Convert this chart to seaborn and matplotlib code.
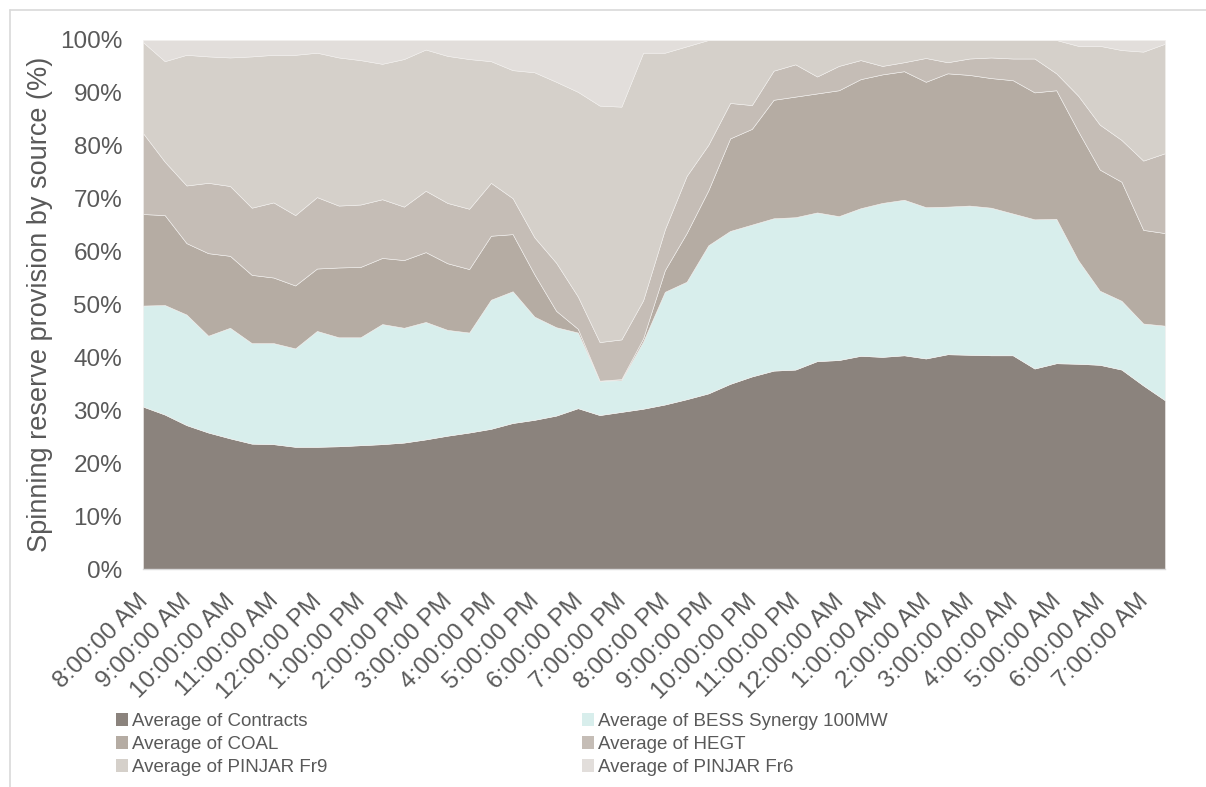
import numpy as np
import pandas as pd
import seaborn as sns
import matplotlib.pyplot as plt
import matplotlib.transforms as mtransforms
from matplotlib.patches import Patch
from matplotlib.lines import Line2D

# half-hourly averages, 8:00 AM -> 7:30 AM (%)
contracts = [30.7, 29.2, 27.2, 25.8, 24.7, 23.7, 23.6, 23.1, 23.1, 23.2, 23.4, 23.6,
             23.9, 24.5, 25.2, 25.8, 26.5, 27.6, 28.2, 29.0, 30.4, 29.1, 29.7, 30.3,
             31.1, 32.1, 33.2, 35.0, 36.4, 37.5, 37.7, 39.3, 39.5, 40.3, 40.1, 40.4,
             39.8, 40.6, 40.5, 40.4, 40.4, 37.9, 38.9, 38.8, 38.6, 37.7, 34.7, 31.9]
bess = [19.1, 20.7, 20.9, 18.3, 20.9, 19.0, 19.1, 18.6, 21.9, 20.6, 20.4, 22.7,
        21.7, 22.2, 20.0, 18.9, 24.4, 24.9, 19.5, 16.7, 14.3, 6.5, 6.0, 12.7,
        21.3, 22.2, 28.0, 28.9, 28.7, 28.8, 28.8, 28.1, 27.2, 27.9, 29.1, 29.4,
        28.6, 27.9, 28.2, 27.9, 26.8, 28.2, 27.3, 19.6, 14.0, 13.0, 11.7, 14.1]
coal = [17.3, 17.0, 13.5, 15.6, 13.6, 12.9, 12.4, 11.9, 11.8, 13.2, 13.3, 12.5,
        12.8, 13.2, 12.6, 12.0, 12.1, 10.8, 8.0, 3.1, 0.7, 0.0, 0.2, 0.6,
        4.1, 9.2, 10.4, 17.5, 18.1, 22.4, 22.8, 22.5, 23.8, 24.4, 24.3, 24.3,
        23.7, 25.2, 24.7, 24.5, 25.2, 24.0, 24.3, 24.4, 22.9, 22.5, 17.7, 17.5]
hegt = [15.3, 10.1, 10.9, 13.3, 13.2, 12.7, 14.2, 13.3, 13.5, 11.7, 11.8, 11.1,
        10.1, 11.6, 11.4, 11.4, 10.0, 6.8, 7.0, 9.1, 6.1, 7.3, 7.5, 7.2,
        7.7, 10.8, 8.6, 6.7, 4.5, 5.5, 6.1, 3.2, 4.6, 3.6, 1.6, 1.7,
        4.5, 2.1, 3.1, 3.9, 4.1, 6.4, 3.2, 6.7, 8.5, 7.9, 13.1, 15.1]
pinjar_fr9 = [17.2, 19.0, 24.7, 23.9, 24.3, 28.6, 27.9, 30.3, 27.3, 28.0, 27.3, 25.6,
              27.9, 26.7, 27.8, 28.3, 23.0, 24.2, 31.2, 34.2, 38.7, 44.7, 44.0, 46.8,
              33.4, 24.5, 19.8, 11.9, 12.3, 5.8, 4.6, 6.9, 4.9, 3.8, 4.9, 4.2,
              3.4, 4.2, 3.5, 3.3, 3.5, 3.5, 6.3, 9.4, 14.9, 17.0, 20.6, 20.7]
pinjar_fr6 = [0.4, 4.0, 2.8, 3.1, 3.3, 3.1, 2.8, 2.8, 2.4, 3.3, 3.8, 4.5,
              3.6, 1.8, 3.0, 3.6, 4.0, 5.7, 6.1, 7.9, 9.8, 12.4, 12.6, 2.4,
              2.4, 1.2, 0.0, 0.0, 0.0, 0.0, 0.0, 0.0, 0.0, 0.0, 0.0, 0.0,
              0.0, 0.0, 0.0, 0.0, 0.0, 0.0, 0.0, 1.1, 1.1, 1.9, 2.2, 0.7]

hour_labels = ['8:00:00 AM', '9:00:00 AM', '10:00:00 AM', '11:00:00 AM', '12:00:00 PM',
               '1:00:00 PM', '2:00:00 PM', '3:00:00 PM', '4:00:00 PM', '5:00:00 PM',
               '6:00:00 PM', '7:00:00 PM', '8:00:00 PM', '9:00:00 PM', '10:00:00 PM',
               '11:00:00 PM', '12:00:00 AM', '1:00:00 AM', '2:00:00 AM', '3:00:00 AM',
               '4:00:00 AM', '5:00:00 AM', '6:00:00 AM', '7:00:00 AM']

series_names = ['Average of Contracts', 'Average of BESS Synergy 100MW', 'Average of COAL',
                'Average of HEGT', 'Average of PINJAR Fr9', 'Average of PINJAR Fr6']
colors = ['#8b837d', '#d8eeec', '#b5aca3', '#c5bdb6', '#d5d0ca', '#e2dedb']

df = pd.DataFrame({
    series_names[0]: contracts,
    series_names[1]: bess,
    series_names[2]: coal,
    series_names[3]: hegt,
    series_names[4]: pinjar_fr9,
    series_names[5]: pinjar_fr6,
})
# 100% stacked, like the Excel chart
df_pct = df.div(df.sum(axis=1), axis=0) * 100

sns.set_theme(style='white')
plt.rcParams['font.family'] = ['Liberation Sans', 'DejaVu Sans']
txt_color = '#595959'

fig = plt.figure(figsize=(12.06, 7.87), dpi=100)
ax = fig.add_axes([143 / 1206, 1 - 569 / 787, (1165 - 143) / 1206, (569 - 40) / 787])

x = np.arange(len(df_pct))
ax.stackplot(x, [df_pct[c].values for c in series_names], colors=colors,
             edgecolor='#f2f0ee', linewidth=0.4)

ax.set_xlim(0, len(x) - 1)
ax.set_ylim(0, 100)
ax.set_yticks(np.arange(0, 101, 10))
ax.set_yticklabels([f'{v}%' for v in range(0, 101, 10)], fontsize=17.5, color=txt_color)
ax.set_xticks(x[::2])
ax.set_xticklabels(hour_labels, rotation=45, ha='right', rotation_mode='anchor',
                   fontsize=17.5, color=txt_color)
ax.tick_params(axis='y', length=0, pad=15)
ax.tick_params(axis='x', length=0, pad=15)
shift = mtransforms.ScaledTranslation(-6 / 100, 0, fig.dpi_scale_trans)
for lbl in ax.get_xticklabels():
    lbl.set_transform(lbl.get_transform() + shift)
ax.set_ylabel('Spinning reserve provision by source (%)', fontsize=19.5, color=txt_color,
              labelpad=5)

for s in ['top', 'right', 'left']:
    ax.spines[s].set_visible(False)
ax.spines['bottom'].set_color('#d9d9d9')
ax.spines['bottom'].set_linewidth(1)

# legend below the plot, two columns (filled column by column)
order = [0, 2, 4, 1, 3, 5]
handles = [Patch(facecolor=colors[i], edgecolor='none') for i in order]
labels = [series_names[i] for i in order]
fig.legend(handles, labels, loc='upper left', bbox_to_anchor=(99 / 1206, 1 - 696 / 787),
           ncol=2, frameon=False, fontsize=13.5, handlelength=0.65, handleheight=0.65,
           handletextpad=0.2, columnspacing=13.6, labelspacing=0.33, labelcolor=txt_color)

# chart border (left and top edges visible)
fig.add_artist(Line2D([10 / 1206, 10 / 1206], [1 - 10 / 787, 0], color='#d9d9d9', lw=1.2))
fig.add_artist(Line2D([10 / 1206, 1], [1 - 10 / 787, 1 - 10 / 787], color='#d9d9d9', lw=1.2))

fig.savefig('out.png', dpi=100)
